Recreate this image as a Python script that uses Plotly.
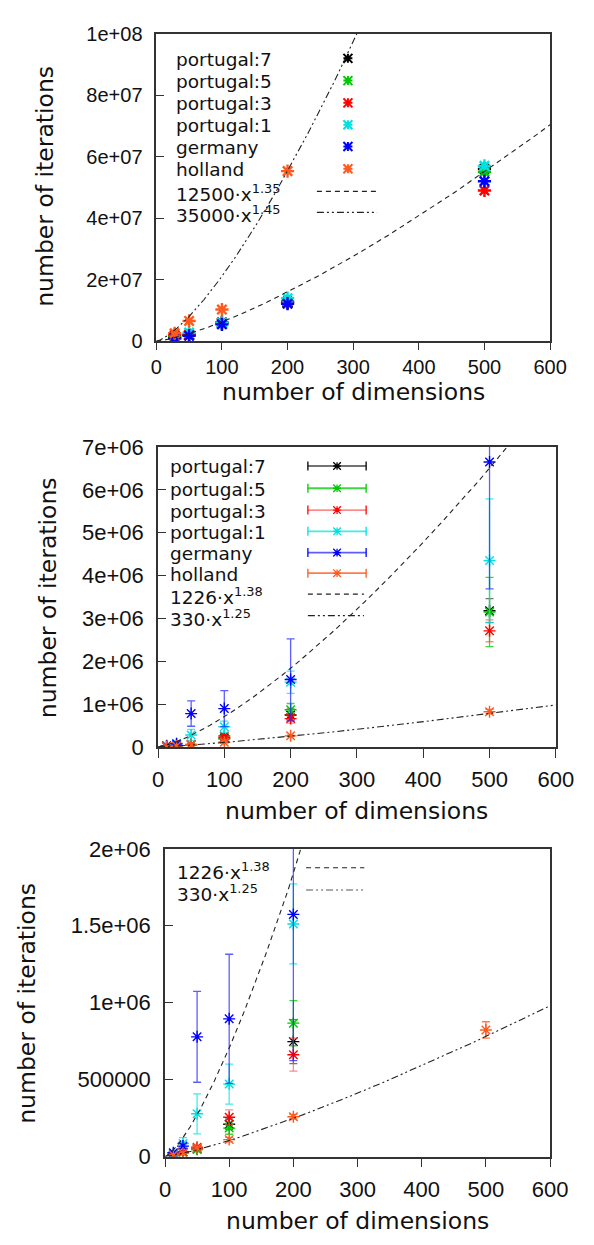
import numpy as np
import plotly.graph_objects as go

W, H = 594, 1245
FONT = "Liberation Sans"
TEXT_FONT = "DejaVu Sans"

# ---------------- data ----------------
series_names = ["portugal:7", "portugal:5", "portugal:3", "portugal:1", "germany", "holland"]
series_colors = ["#000000", "#00c800", "#ff0000", "#00e0e0", "#0000ff", "#ff5a1e"]
errbar_colors = ["rgba(0,0,0,0.55)", "rgba(0,200,0,0.75)", "rgba(255,60,60,0.6)",
                 "rgba(0,230,230,0.75)", "rgba(40,40,255,0.75)", "rgba(255,90,30,0.8)"]

# top panel (no error bars)
dims_top = [28, 50, 100, 200, 500]
top_portugal7 = [1.2e6, 2.0e6, 5.8e6, 1.25e7, 5.6e7]
top_portugal5 = [1.4e6, 2.1e6, 6.0e6, 1.30e7, 5.5e7]
top_portugal3 = [2.0e6, 2.2e6, 6.2e6, 1.28e7, 4.9e7]
top_portugal1 = [0.8e6, 2.8e6, 6.0e6, 1.40e7, 5.7e7]
top_germany = [1.0e6, 1.8e6, 5.5e6, 1.22e7, 5.2e7]
top_holland = [2.6e6, 6.6e6, 1.03e7, 5.53e7, None]
top_values = [top_portugal7, top_portugal5, top_portugal3, top_portugal1, top_germany, top_holland]

# middle / bottom panels (mean with symmetric error)
dims_err = [13, 28, 50, 100, 200, 500]
mean_portugal7 = [1.2e4, 3.0e4, 5.0e4, 2.1e5, 7.47e5, 3.18e6]
err_portugal7 = [5e3, 1e4, 1.5e4, 3.5e4, 1.43e5, 2.8e5]
mean_portugal5 = [1.0e4, 2.5e4, 4.5e4, 1.85e5, 8.67e5, 3.15e6]
err_portugal5 = [5e3, 1e4, 1.5e4, 4.0e4, 1.47e5, 8.1e5]
mean_portugal3 = [1.0e4, 3.0e4, 6.0e4, 2.55e5, 6.62e5, 2.71e6]
err_portugal3 = [5e3, 1e4, 1.5e4, 4.8e4, 1.07e5, 2.55e5]
mean_portugal1 = [2.2e4, 8.5e4, 2.78e5, 4.71e5, 1.512e6, 4.35e6]
err_portugal1 = [8e3, 3.8e4, 1.3e5, 1.3e5, 2.6e5, 1.44e6]
mean_germany = [2.5e4, 6.8e4, 7.78e5, 8.95e5, 1.574e6, 6.65e6]
err_germany = [8e3, 1.5e4, 2.95e5, 4.2e5, 9.5e5, 2.96e6]
mean_holland = [1.0e4, 2.2e4, 5.5e4, 1.1e5, 2.59e5, 8.23e5]
err_holland = [3e3, 5e3, 1.0e4, 1.5e4, 1.5e4, 5.3e4]
mean_values = [mean_portugal7, mean_portugal5, mean_portugal3, mean_portugal1, mean_germany, mean_holland]
err_values = [err_portugal7, err_portugal5, err_portugal3, err_portugal1, err_germany, err_holland]

# fitted power laws: (label, coefficient, exponent as drawn)
fits_top = [("12500·x<sup>1.35</sup>", 12500, 1.35), ("35000·x<sup>1.45</sup>", 35000, 1.39)]
fits_err = [("1226·x<sup>1.38</sup>", 1226, 1.38), ("330·x<sup>1.25</sup>", 330, 1.25)]

x_ticks = [0, 100, 200, 300, 400, 500, 600]
x_ticktext = ["0", "100", "200", "300", "400", "500", "600"]
y1_ticks = [0, 2e7, 4e7, 6e7, 8e7, 1e8]
y1_ticktext = ["0", "2e+07", "4e+07", "6e+07", "8e+07", "1e+08"]
y2_ticks = [0, 1e6, 2e6, 3e6, 4e6, 5e6, 6e6, 7e6]
y2_ticktext = ["0", "1e+06", "2e+06", "3e+06", "4e+06", "5e+06", "6e+06", "7e+06"]
y3_ticks = [0, 5e5, 1e6, 1.5e6, 2e6]
y3_ticktext = ["0", "500000", "1e+06", "1.5e+06", "2e+06"]

x_title = "number of dimensions"
y_title = "number of iterations"

# ---------------- layout geometry (pixels) ----------------
panels = {
    1: dict(x0=156.6, x1=567, y0=22, y1=336, tick=20, xlen=7, xoff=0),
    2: dict(x0=158.4, x1=573, y0=444, y1=750, tick=22, xlen=9, xoff=3),
    3: dict(x0=165.7, x1=567, y0=854, y1=1168, tick=22, xlen=9, xoff=3),
}
fit_dashes = ["5px,4px", "7px,3px,2px,3px,2px,3px"]


def px(xp):
    return xp / W


def py(yp):
    return 1 - yp / H


fig = go.Figure()
xfit = np.linspace(0, 600, 1201)

# ---- panel 1 ----
for name, col, vals in zip(series_names, series_colors, top_values):
    fig.add_trace(go.Scatter(
        x=dims_top, y=vals, mode="markers", name=name, showlegend=False,
        marker=dict(symbol="asterisk-open", size=11, color=col, line=dict(color=col, width=2.4)),
        xaxis="x", yaxis="y"))
for (lab, c, e), dash in zip(fits_top, fit_dashes):
    fig.add_trace(go.Scatter(x=xfit, y=c * xfit ** e, mode="lines", showlegend=False,
                             line=dict(color="#222222", width=1.1, dash=dash),
                             xaxis="x", yaxis="y"))

# ---- panels 2 and 3 ----
for xa, ya in (("x2", "y2"), ("x3", "y3")):
    for name, col, ecol, m, er in zip(series_names, series_colors, errbar_colors, mean_values, err_values):
        fig.add_trace(go.Scatter(
            x=dims_err, y=m, mode="markers", name=name, showlegend=False,
            error_y=dict(type="data", array=er, visible=True, color=ecol, thickness=1.3, width=4),
            marker=dict(symbol="asterisk-open", size=10, color=col, line=dict(color=col, width=1.4)),
            xaxis=xa, yaxis=ya))
    for (lab, c, e), dash in zip(fits_err, fit_dashes):
        fig.add_trace(go.Scatter(x=xfit, y=c * xfit ** e, mode="lines", showlegend=False,
                                 line=dict(color="#222222", width=1.1, dash=dash),
                                 xaxis=xa, yaxis=ya))

axis_common = dict(showline=True, linecolor="#333333", linewidth=1.5, mirror=True,
                   showgrid=False, zeroline=False)


def xaxis(p, anchor):
    g = panels[p]
    return dict(axis_common, domain=[px(g["x0"]), px(g["x1"])], range=[0, 600],
                tickmode="array", tickvals=x_ticks, ticktext=x_ticktext,
                ticks="outside", ticklen=g["xlen"], tickcolor="#333333", anchor=anchor,
                ticklabelstandoff=g["xoff"],
                tickfont=dict(family=FONT, size=g["tick"], color="#111111"))


def yaxis(p, anchor, rng, tv, tt):
    g = panels[p]
    return dict(axis_common, domain=[py(g["y1"]), py(g["y0"])], range=rng,
                tickmode="array", tickvals=tv, ticktext=tt,
                ticks="inside", ticklen=8, tickcolor="#333333", anchor=anchor,
                ticklabelstandoff=8,
                tickfont=dict(family=FONT, size=g["tick"], color="#111111"))


annotations = []
shapes = []

title_font = dict(family=TEXT_FONT, size=23.5, color="#111111")
leg_font = dict(family=TEXT_FONT, size=18.5, color="#111111")

# axis titles
title_pos = {1: (41, 178, 362, 388), 2: (44, 598, 365, 815), 3: (22, 1012, 366, 1234)}
for p, (yx, yy, xx, xy) in title_pos.items():
    annotations.append(dict(text=y_title, x=px(yx), y=py(yy), xref="paper", yref="paper",
                            textangle=-90, showarrow=False, font=title_font,
                            xanchor="center", yanchor="middle"))
    annotations.append(dict(text=x_title, x=px(xx), y=py(xy), xref="paper", yref="paper",
                            showarrow=False, font=title_font, xanchor="center", yanchor="middle"))


def add_label(text, xp, yp):
    annotations.append(dict(text=text, x=px(xp), y=py(yp), xref="paper", yref="paper",
                            showarrow=False, font=leg_font, xanchor="left", yanchor="middle",
                            borderpad=0))


def add_asterisk(xp, yp, col, r=4.5, w=2.0):
    path = f"M{-r},{-r}L{r},{r}M{-r},{r}L{r},{-r}M{-r},0L{r},0M0,{-r}L0,{r}"
    shapes.append(dict(type="path", xref="paper", yref="paper", xsizemode="pixel", ysizemode="pixel",
                       xanchor=px(xp), yanchor=py(yp), path=path, line=dict(color=col, width=w)))


def add_hline(xa, xb, yp, col, dash="solid", w=1.2):
    shapes.append(dict(type="line", xref="paper", yref="paper", x0=px(xa), x1=px(xb),
                       y0=py(yp), y1=py(yp), line=dict(color=col, width=w, dash=dash)))


def add_cap(xp, yp, col, h=4.5):
    shapes.append(dict(type="line", xref="paper", yref="paper", ysizemode="pixel",
                       yanchor=py(yp), x0=px(xp), x1=px(xp), y0=-h, y1=h,
                       line=dict(color=col, width=1.3)))


# legend panel 1
leg1_rows = [47.3, 70, 92.7, 115, 137.3, 160]
for name, col, yr in zip(series_names, series_colors, leg1_rows):
    add_label(name, 176, yr + 1)
    add_asterisk(356.3, yr, col)
for (lab, c, e), dash, yr in zip(fits_top, fit_dashes, [183, 204.5]):
    add_label(lab, 176, yr + 2)
    add_hline(324, 386.7, yr, "#222222", dash)

# legend panel 2
leg2_rows = [463.3, 486, 508.3, 530, 551.7, 572.7]
for name, col, ecol, yr in zip(series_names, series_colors, errbar_colors, leg2_rows):
    add_label(name, 170, yr + 1)
    add_hline(314.6, 375.3, yr, ecol, "solid", 1.8)
    add_cap(314.6, yr, col)
    add_cap(375.3, yr, col)
    add_asterisk(345, yr, col, r=3.8, w=1.3)
for (lab, c, e), dash, yr in zip(fits_err, fit_dashes, [594, 616]):
    add_label(lab, 170, yr + 2)
    add_hline(314.6, 373, yr, "#222222", dash)

# legend panel 3
for (lab, c, e), dash, yr, col, w in zip(fits_err, fit_dashes, [873.3, 896], ["#222222", "#aaaaaa"], [1.1, 2]):
    add_label(lab, 177, yr + 3)
    add_hline(312.7, 373.4, yr, col, dash, w)

fig.update_layout(
    width=W, height=H, margin=dict(l=0, r=0, t=0, b=0),
    paper_bgcolor="white", plot_bgcolor="white", showlegend=False,
    xaxis=xaxis(1, "y"), yaxis=yaxis(1, "x", [0, 1e8], y1_ticks, y1_ticktext),
    xaxis2=xaxis(2, "y2"), yaxis2=yaxis(2, "x2", [0, 7e6], y2_ticks, y2_ticktext),
    xaxis3=xaxis(3, "y3"), yaxis3=yaxis(3, "x3", [0, 2e6], y3_ticks, y3_ticktext),
    annotations=annotations, shapes=shapes,
)

fig.write_html("out.html")
